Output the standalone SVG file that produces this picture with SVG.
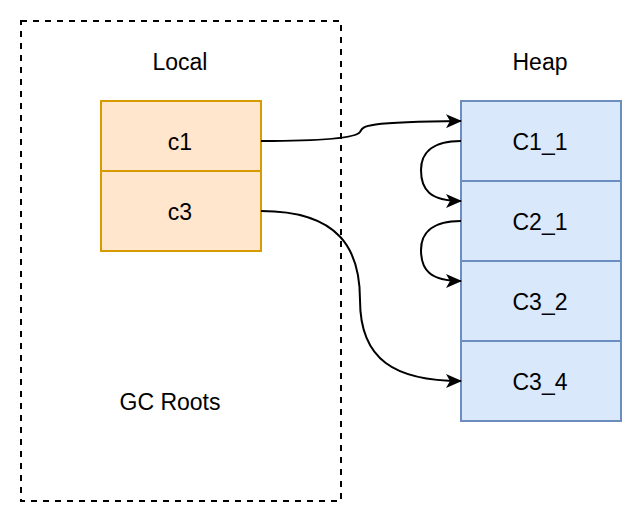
<svg xmlns="http://www.w3.org/2000/svg" width="642" height="522" viewBox="0 0 642 522">
<style>
text{font-family:"Liberation Sans",Arial,sans-serif;font-size:23px;fill:#000;text-anchor:middle;dominant-baseline:central}
.loc{fill:#ffe6cc;stroke:#d79b00;stroke-width:2}
.heap{fill:#dae8fc;stroke:#6c8ebf;stroke-width:2}
.edge{fill:none;stroke:#000;stroke-width:2}
</style>
<defs>
<marker id="arr" viewBox="0 0 16 14" refX="15" refY="7" markerWidth="16" markerHeight="14" markerUnits="userSpaceOnUse" orient="auto">
<path d="M0,0 L16,7 L0,14 L4,7 Z" fill="#000"/>
</marker>
</defs>
<g id="gcroots">
<rect x="21" y="21" width="320" height="480" fill="#fff" stroke="#000" stroke-width="2" stroke-dasharray="6 6"/>
<text x="180" y="62">Local</text>
<text x="170" y="402">GC Roots</text>
</g>
<g id="c1"><rect class="loc" x="101" y="101" width="160" height="70"/><text x="180" y="142">c1</text></g>
<g id="c3"><rect class="loc" x="101" y="171" width="160" height="80"/><text x="180" y="212">c3</text></g>
<g id="heap-label"><text x="540" y="62">Heap</text></g>
<g id="C1_1"><rect class="heap" x="461" y="101" width="160" height="80"/><text x="540" y="142">C1_1</text></g>
<g id="C2_1"><rect class="heap" x="461" y="181" width="160" height="80"/><text x="540" y="222">C2_1</text></g>
<g id="C3_2"><rect class="heap" x="461" y="261" width="160" height="80"/><text x="540" y="302">C3_2</text></g>
<g id="C3_4"><rect class="heap" x="461" y="341" width="160" height="80"/><text x="540" y="382">C3_4</text></g>
<g id="connectors">
<path class="edge" marker-end="url(#arr)" d="M261,141 C310,141 355,139 360,132 C363,126 362,122 461,121"/>
<path class="edge" marker-end="url(#arr)" d="M261,211 C340,211 360,250 360,300 C360,360 395,381 461,381"/>
<path class="edge" marker-end="url(#arr)" d="M461,141 C430,141 421,155 421,170 C421,190 430,201 461,201"/>
<path class="edge" marker-end="url(#arr)" d="M461,221 C430,221 421,235 421,250 C421,270 430,281 461,281"/>
</g>
</svg>
